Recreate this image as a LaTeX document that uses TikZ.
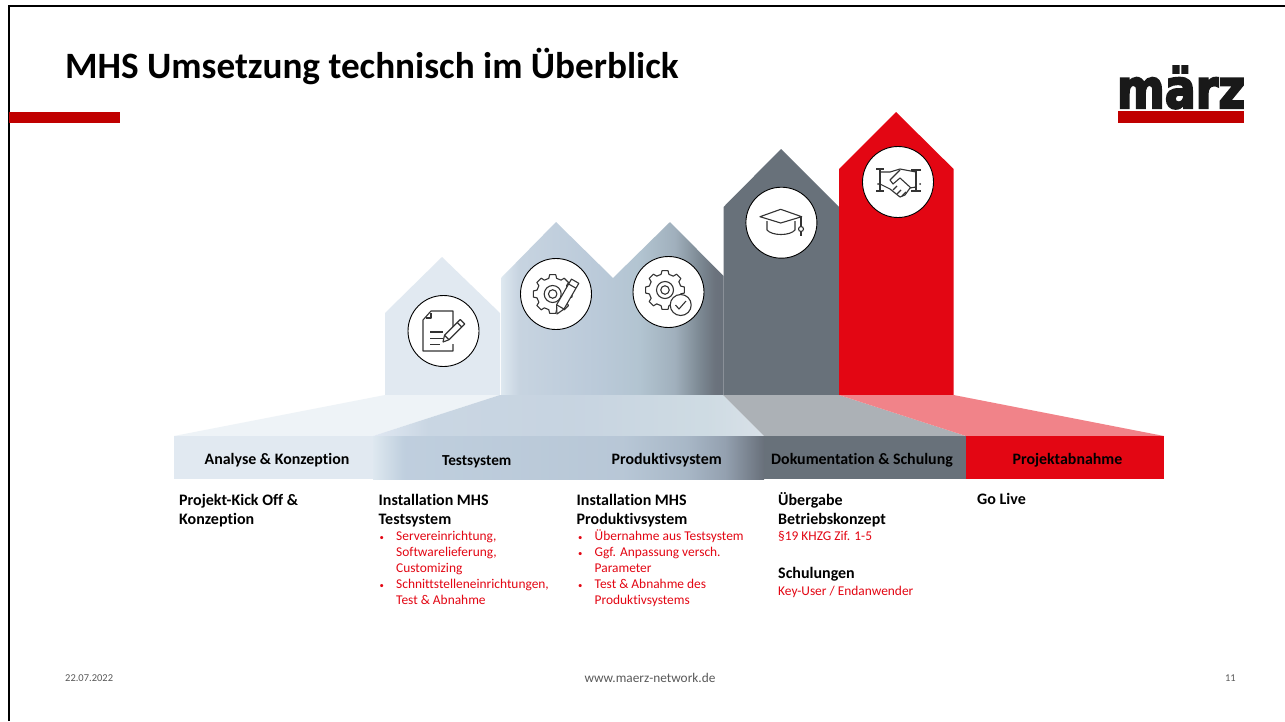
\documentclass[tikz,border=0pt]{standalone}
\usepackage{fontspec}
\setmainfont[Ligatures=NoCommon]{Carlito}
\newfontfamily\logofont[BoldFeatures={FakeBold=4}]{DejaVu Sans}
\usepackage{tikz}
\usetikzlibrary{positioning}
\definecolor{maerzred}{HTML}{E30613}
\definecolor{barred}{HTML}{C00000}
\definecolor{slategrey}{HTML}{68717A}
\definecolor{paleblue}{HTML}{E1E9F1}
\definecolor{footgrey}{HTML}{595959}
\pgfdeclarehorizontalshading{houseshade}{100bp}{rgb(0bp)=(0.87,0.91,0.94);
    rgb(25bp)=(0.87,0.91,0.94); rgb(29bp)=(0.78,0.83,0.88); rgb(47bp)=(0.73,0.79,0.85);
    rgb(56bp)=(0.70,0.77,0.82); rgb(64bp)=(0.63,0.69,0.74); rgb(69.5bp)=(0.49,0.54,0.58);
    rgb(73bp)=(0.42,0.45,0.49); rgb(75bp)=(0.41,0.44,0.48); rgb(100bp)=(0.41,0.44,0.48)}
\pgfdeclarehorizontalshading{bandshade}{100bp}{rgb(0bp)=(0.87,0.91,0.94);
    rgb(25bp)=(0.87,0.91,0.94); rgb(29bp)=(0.75,0.81,0.87); rgb(57bp)=(0.72,0.78,0.84);
    rgb(65bp)=(0.66,0.72,0.78); rgb(70bp)=(0.58,0.63,0.69); rgb(75bp)=(0.41,0.44,0.48);
    rgb(100bp)=(0.41,0.44,0.48)}
\pgfdeclarehorizontalshading{roofshade}{100bp}{rgb(0bp)=(0.88,0.91,0.95);
    rgb(25bp)=(0.88,0.91,0.95); rgb(32bp)=(0.79,0.84,0.89); rgb(50bp)=(0.78,0.83,0.88);
    rgb(68bp)=(0.81,0.86,0.89); rgb(75bp)=(0.85,0.88,0.91); rgb(100bp)=(0.85,0.88,0.91)}
\tikzset{
    head/.style={anchor=north west,inner sep=0pt,align=left,text=black,
        font=\fontsize{16}{19}\selectfont\bfseries},
    redtext/.style={anchor=north west,inner sep=0pt,align=left,text=maerzred,
        font=\fontsize{13.4}{16}\selectfont},
    bandlabel/.style={inner sep=0pt,text=black,font=\fontsize{15.9}{18}\selectfont\bfseries},
    foot/.style={inner sep=0pt,text=footgrey,font=\fontsize{10.5}{13}\selectfont},
    iconbg/.style={circle,draw=black,fill=white,line width=0.9pt,minimum size=71pt,inner sep=0pt},
    iconline/.style={draw=black!80,line width=1.1pt,line join=round},
    gearpic/.pic={
        \draw[iconline] (-14:19) \foreach \a in {0,45,...,315} {
            -- (\a-14:19) -- (\a-9:23) -- (\a+9:23) -- (\a+14:19) -- (\a+31:19)} -- cycle;
        \draw[iconline] (0,0) circle (10);
        \draw[iconline] (0,0) circle (5);
    },
    pencilpic/.pic={
        \draw[iconline,fill=white] (0,0) -- (2,-9) -- (23,-30) -- (29,-24) -- (8,-3) -- cycle;
        \draw[iconline] (2,-9) -- (8,-3) (19,-26) -- (25,-20);
    }
}
\newcommand{\bul}{\makebox[17pt][l]{\hspace*{0.5pt}\scalebox{0.65}{\textbullet}}}
\newcommand{\cnt}{\hspace*{17pt}}
\begin{document}
\begin{tikzpicture}[x=1pt,y=-1pt]
    \useasboundingbox (0,0) rectangle (1285,721);
    % frame and bar
    \fill[white] (0,0) rectangle (1285,721);
    \draw[black,line width=2pt] (9,721) -- (9,6) -- (1285,6);
    \fill[barred] (9,111.7) rectangle (120,123);
    \node[inner sep=0pt,anchor=base west,font=\fontsize{37.2}{44}\selectfont\bfseries] (title) at (65,78) {MHS Umsetzung technisch im Überblick};
    % logo
    \fill[barred] (1118,111) rectangle (1244,122.7);
    \node[inner sep=0pt,anchor=base,text=black!90] (logo) at (1181,108) {\logofont\bfseries\fontsize{54}{54}\selectfont\scalebox{0.85}[1]{märz}};
    % houses
    \fill[paleblue] (385,395) -- (385,313) -- (442,257) -- (500,313) -- (500,395) -- cycle;
    \path[shading=houseshade] (501,395) -- (501,278) -- (556,222) -- (613,278) -- (670,222) -- (723.5,276) -- (723.5,395) -- cycle;
    \fill[slategrey] (723.5,395) -- (723.5,207) -- (781,149) -- (839,207) -- (839,395) -- cycle;
    \fill[maerzred] (839,395) -- (839,169) -- (896,112) -- (953.6,169) -- (953.6,395) -- cycle;
    % roofs of the band
    \fill[paleblue!55] (385,395) -- (500,395) -- (373,436) -- (174,436) -- cycle;
    \path[shading=roofshade] (500,395) -- (723,395) -- (764,436) -- (373,436) -- cycle;
    \fill[slategrey!55] (723,395) -- (839,395) -- (966,436) -- (764,436) -- cycle;
    \fill[maerzred!50] (839,395) -- (953.6,395) -- (1164,436) -- (966,436) -- cycle;
    % band
    \fill[paleblue] (174,436) rectangle (373,479);
    \path[shading=bandshade] (373,436) rectangle (764,479);
    \fill[slategrey] (764,436) rectangle (966,479);
    \fill[maerzred] (966,436) rectangle (1164,479);
    \node[bandlabel] (analyse) at (277,460) {Analyse \& Konzeption};
    \node[bandlabel,font=\fontsize{15.3}{18}\selectfont\bfseries] (testsystem) at (476.7,462) {Testsystem};
    \node[bandlabel] (produktiv) at (666.7,460.5) {Produktivsystem};
    \node[bandlabel] (doku) at (862,460) {Dokumentation \& Schulung};
    \node[bandlabel] (abnahme) at (1067.5,460) {Projektabnahme};
    % columns
    \node[head] (kickoff) at (179,491.7) {\strut Projekt-Kick Off \&\\Konzeption};
    \node[head] (insttest) at (378.5,491.7) {\strut Installation MHS\\Testsystem};
    \node[redtext] (listtest) at (379,529) {\strut\bul Servereinrichtung,\\\cnt Softwarelieferung,\\\cnt Customizing\\\bul Schnittstelleneinrichtungen,\\\cnt Test \& Abnahme};
    \node[head] (instprod) at (576.5,491.7) {\strut Installation MHS\\Produktivsystem};
    \node[redtext] (listprod) at (577.5,529) {\strut\bul Übernahme aus Testsystem\\\bul Ggf. Anpassung versch.\\\cnt Parameter\\\bul Test \& Abnahme des\\\cnt Produktivsystems};
    \node[head] (uebergabe) at (778,491.7) {\strut Übergabe\\Betriebskonzept};
    \node[redtext] (paragraph) at (778,529) {\strut§19 KHZG Zif. 1-5};
    \node[head] (schulungen) at (778,565) {\strut Schulungen};
    \node[redtext] (keyuser) at (778,584) {\strut Key-User / Endanwender};
    \node[head] (golive) at (977,490.7) {\strut Go Live};
    % footer
    \node[foot,anchor=west] (datum) at (65,678) {22.07.2022};
    \node[foot,font=\fontsize{13.3}{16}\selectfont] (web) at (650,678) {www.maerz-network.de};
    \node[foot,anchor=east] (seite) at (1236,678) {11};
    % icons
    \node[iconbg] (docicon) at (443.5,331) {};
    \node[iconbg] (editicon) at (556,294) {};
    \node[iconbg] (checkicon) at (668.5,292) {};
    \node[iconbg] (capicon) at (781.4,222.7) {};
    \node[iconbg] (handicon) at (898,182) {};
    % document
    \draw[iconline] (453,328) -- (453,311) -- (431,311) -- (423,320) -- (423,351) -- (453,351) -- (453,344);
    \draw[iconline] (431,313) -- (431,318) -- (426,318);
    \draw[iconline,line width=1.6pt] (430,332) -- (443,332) (430,338.5) -- (443,338.5) (430,344.5) -- (440,344.5);
    \pic[scale=0.75] at (443,342) {pencilpic};
    % gears
    \pic[scale=0.85] at (552.7,294) {gearpic};
    \pic[rotate=15] at (557,314) {pencilpic};
    \pic[scale=0.85] at (665,290) {gearpic};
    \draw[iconline,fill=white] (680.7,305) circle (10.5);
    \draw[iconline] (675.5,305) -- (679,309) -- (686,301);
    % cap
    \draw[iconline] (767,221) -- (767,230) .. controls (772,236) and (790,236) .. (795,230) -- (795,221);
    \draw[iconline,fill=white] (760,216.7) -- (780.7,209.3) -- (801.7,216.7) -- (780.7,223) -- cycle;
    \draw[iconline] (801,217) -- (801,226) (801,232) -- (801,236);
    \draw[iconline] (801,229) circle (2.5);
    % handshake
    \draw[iconline] (876,169) -- (884,169) (880,169) -- (880,191) (876,191) -- (884,191);
    \draw[iconline] (911,170) -- (921,170) (916,170) -- (916,191) (911,191) -- (921,191);
    \draw[iconline] (880,172) -- (890,172) -- (900,169) -- (916,172) (880,184) -- (890,189) -- (900,197) -- (905,195) -- (910,188) -- (916,187);
    \draw[iconline] (900,170) -- (890,180) -- (893,184) -- (900,178) -- (911,188);
    \draw[iconline] (893,190) -- (897,186) (897,194) -- (901,190) (902,196) -- (906,192);
    \fill[black!80] (878,184) circle (1) (920,184) circle (1);
\end{tikzpicture}
\end{document}
